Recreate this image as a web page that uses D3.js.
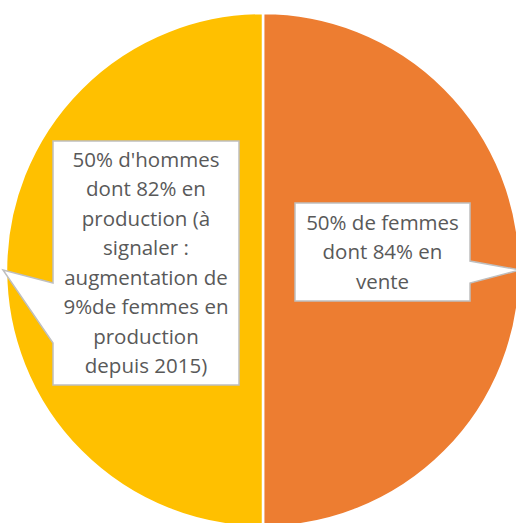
<!DOCTYPE html>
<html><head><meta charset="utf-8">
<script src="https://cdn.jsdelivr.net/npm/d3@7"></script>
<style>html,body{margin:0;padding:0;background:#fff;overflow:hidden}</style>
</head><body><svg id="c" width="516" height="523"></svg>
<script>
const categories = ["Femmes", "Hommes"];
const values = [50, 50];
const colors = ["#ED7D31", "#FFC000"];
const labelLines = [
  ["50% de femmes", "dont 84% en", "vente"],
  ["50% d'hommes", "dont 82% en", "production (à", "signaler :", "augmentation de", "9%de femmes en", "production", "depuis 2015)"]
];

const svg = d3.select("#c");
const cx = 263, cy = 270, r = 257;
const g = svg.append("g").attr("transform", `translate(${cx},${cy})`);
const pie = d3.pie().sort(null).value(d => d)(values);
const arc = d3.arc().innerRadius(0).outerRadius(r);
g.selectAll("path.slice").data(pie).join("path")
  .attr("class", "slice")
  .attr("d", arc)
  .attr("fill", (d, i) => colors[i])
  .attr("stroke", "#fff").attr("stroke-width", 2.5);

// callout boxes (layout)
const boxes = [
  {x: 295, y: 203, w: 175, h: 98, b0: 261, b1: 283, side: "right", ext: 0},
  {x: 53, y: 141, w: 186, h: 244, b0: 283, b1: 343, side: "left", ext: 3}
];
pie.forEach((d, i) => {
  const b = boxes[i];
  const a = (d.startAngle + d.endAngle) / 2;
  const tx = cx + Math.sin(a) * (r + b.ext);
  const ty = cy - Math.cos(a) * r;
  let pts;
  if (b.side === "right") {
    pts = [[b.x, b.y], [b.x + b.w, b.y], [b.x + b.w, b.b0], [tx, ty], [b.x + b.w, b.b1], [b.x + b.w, b.y + b.h], [b.x, b.y + b.h]];
  } else {
    pts = [[b.x, b.y], [b.x + b.w, b.y], [b.x + b.w, b.y + b.h], [b.x, b.y + b.h], [b.x, b.b1], [tx, ty], [b.x, b.b0]];
  }
  svg.append("path")
    .attr("d", d3.line()(pts) + "Z")
    .attr("fill", "#fff")
    .attr("stroke", "#BFBFBF").attr("stroke-width", 1.5);
  const lines = labelLines[i];
  const lh = 29.5;
  const startY = b.y + b.h / 2 - (lines.length - 1) * lh / 2 + 7;
  svg.append("text")
    .attr("font-family", "'Open Sans', sans-serif")
    .attr("font-size", 20.5)
    .attr("fill", "#595959")
    .attr("text-anchor", "middle")
    .selectAll("tspan").data(lines).join("tspan")
    .attr("x", b.x + b.w / 2)
    .attr("y", (l, j) => startY + j * lh)
    .text(l => l);
});
</script></body></html>
